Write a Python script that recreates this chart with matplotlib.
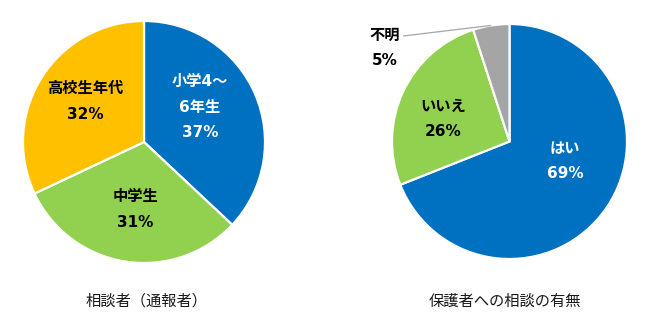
import numpy as np
import matplotlib
matplotlib.use("Agg")
import matplotlib.pyplot as plt

plt.rcParams['font.family'] = ['Noto Sans CJK JP', 'DejaVu Sans']

# Left pie: who consulted (reported)
left_labels = ["小学4～\n6年生", "中学生", "高校生年代"]
left_values = [37, 31, 32]
left_title = "相談者（通報者）"

# Right pie: consulted with guardian or not
right_labels = ["はい", "いいえ", "不明"]
right_values = [69, 26, 5]
right_title = "保護者への相談の有無"

BLUE, GREEN, ORANGE, GRAY = "#0070C0", "#92D050", "#FFC000", "#A5A5A5"
left_colors = [BLUE, GREEN, ORANGE]
right_colors = [BLUE, GREEN, GRAY]
left_text_colors = ["white", "black", "black"]
right_text_colors = ["white", "black", "black"]

W, H = 650, 322
fig = plt.figure(figsize=(W / 100, H / 100), dpi=100)
ax = fig.add_axes([0, 0, 1, 1])


def py(y):
    # pixel row (from top) to axes y
    return H - y


# Pie geometry (pixel units)
left_center, left_radius = (144, py(142)), 121
right_center, right_radius = (509.5, py(141.5)), 117.5

# Label block centres (pixel units, from top)
left_label_pos = [(200, 107), (135, 209.5), (85, 101.5)]
right_label_pos = [(565, 161), (443, 119), (385, 47.5)]

wedge_style = dict(edgecolor="white", linewidth=1.6)

lw, _ = ax.pie(left_values, colors=left_colors, startangle=90, counterclock=False,
               center=left_center, radius=left_radius, wedgeprops=wedge_style,
               frame=True)
rw, _ = ax.pie(right_values, colors=right_colors, startangle=90, counterclock=False,
               center=right_center, radius=right_radius, wedgeprops=wedge_style,
               frame=True)
ax.set_xlim(0, W)
ax.set_ylim(0, H)
ax.set_aspect("auto")
ax.axis("off")

# Wide Latin digits with Japanese glyphs falling back to Noto CJK
label_style = dict(ha="center", va="center", fontsize=11, fontweight="bold",
                   linespacing=1.85, family=['DejaVu Sans', 'Noto Sans CJK JP'])

for lab, val, (x, y), c in zip(left_labels, left_values, left_label_pos, left_text_colors):
    ax.text(x, py(y), f"{lab}\n{val}%", color=c, **label_style)

for lab, val, (x, y), c in zip(right_labels, right_values, right_label_pos, right_text_colors):
    ax.text(x, py(y), f"{lab}\n{val}%", color=c, **label_style)

# Leader line from the small slice to its label
w = rw[2]
mid = np.deg2rad((w.theta1 + w.theta2) / 2)
ex = right_center[0] + right_radius * np.cos(mid)
ey = right_center[1] + right_radius * np.sin(mid)
ax.plot([403, ex], [py(36), ey], color="#A6A6A6", linewidth=0.9, solid_capstyle="butt")

title_style = dict(ha="center", va="center", fontsize=11, color="#1a1a1a")
ax.text(147, py(301), left_title, **title_style)
ax.text(505, py(301), right_title, **title_style)

fig.savefig("out.png", dpi=100)
